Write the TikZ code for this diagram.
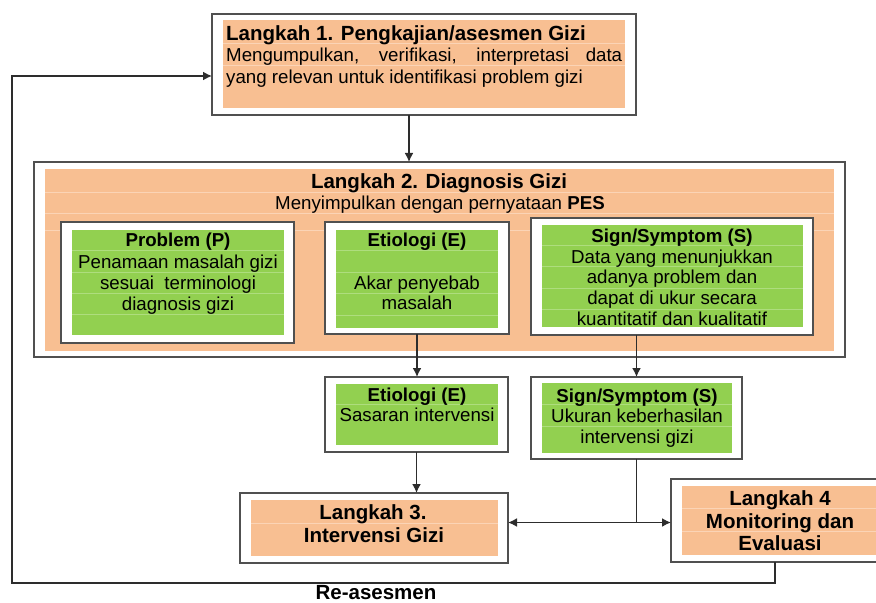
\documentclass[tikz,border=0pt]{standalone}
\usepackage{fontspec}
\setmainfont{Liberation Sans}
\usetikzlibrary{arrows.meta}
\definecolor{orfill}{RGB}{248,191,146}
\definecolor{orline}{RGB}{251,212,182}
\definecolor{grfill}{RGB}{146,208,80}
\definecolor{grline}{RGB}{174,221,126}
\definecolor{framec}{RGB}{80,80,80}
\definecolor{linec}{RGB}{45,45,45}
\begin{document}
\begin{tikzpicture}[x=1bp,y=-1bp,
  frame/.style={draw=framec,line width=1.6bp,fill=white,inner sep=0,outer sep=0},
  orbox/.style={fill=orfill,inner sep=0,outer sep=0},
  grbox/.style={fill=grfill,inner sep=0,outer sep=0},
  orrow/.style={draw=orline,line width=1bp},
  grrow/.style={draw=grline,line width=1bp},
  big/.style={font=\fontsize{20.5bp}{24bp}\selectfont\bfseries, inner sep=0, text height=14.8bp, text depth=0bp},
  hd/.style={font=\fontsize{18.7bp}{22bp}\selectfont\bfseries, inner sep=0, text height=13.5bp, text depth=0bp},
  tx/.style={font=\fontsize{18.7bp}{22bp}\selectfont, inner sep=0, text height=13.5bp, text depth=0bp},
  conn/.style={draw=linec,line width=1.6bp},
  arr/.style={conn,-{Latex[length=9bp,width=9bp]}},
]
\useasboundingbox (0,0) rectangle (876,603);

% ---------- Langkah 1 ----------
\node[frame, minimum width=424bp, minimum height=101bp] (b1) at (424,64.5) {};
\node[orbox, minimum width=402bp, minimum height=88bp] (b1i) at (424,64) {};
\draw[orrow] (223,43.3) -- (625,43.3);
\draw[orrow] (223,65.3) -- (625,65.3);
\node[big, anchor=west] (t1a) at (226,33) {Langkah 1. Pengkajian/asesmen Gizi};
\node[tx, anchor=west] (t1b) at (226,55) {\makebox[396bp][s]{Mengumpulkan, verifikasi, interpretasi data}};
\node[tx, anchor=west] (t1c) at (226,77) {yang relevan untuk identifikasi problem gizi};

% ---------- Langkah 2 ----------
\node[frame, minimum width=811bp, minimum height=195bp] (b2) at (439.5,259.5) {};
\node[orbox, minimum width=789bp, minimum height=182bp] (b2i) at (439.5,260) {};
\draw[orrow] (45,192.3) -- (834,192.3);
\draw[orrow] (45,213.3) -- (834,213.3);
\draw[orrow] (45,231) -- (834,231);
\node[big] (t2a) at (439,181) {Langkah 2. Diagnosis Gizi};
\node[tx] (t2b) at (440,203) {Menyimpulkan dengan pernyataan \textbf{PES}};

% Problem
\node[frame, minimum width=233bp, minimum height=121bp] (p1) at (177.5,282.5) {};
\node[grbox, minimum width=212bp, minimum height=105bp] (p1i) at (178,282.5) {};
\foreach \yy in {250,272.3,293.3,314.3} \draw[grrow] (72,\yy) -- (284,\yy);
\node[hd] (tpa) at (178,240) {Problem (P)};
\node[tx] (tpb) at (178,262) {Penamaan masalah gizi};
\node[tx] (tpc) at (178,283) {sesuai\ \ terminologi};
\node[tx] (tpd) at (178,304) {diagnosis gizi};

% Etiologi
\node[frame, minimum width=184bp, minimum height=112bp] (e1) at (417,278) {};
\node[grbox, minimum width=162bp, minimum height=98bp] (e1i) at (417,279) {};
\foreach \yy in {250.7,272,293,315} \draw[grrow] (336,\yy) -- (498,\yy);
\node[hd] (tea) at (417,240) {Etiologi (E)};
\node[tx] (teb) at (417,283) {Akar penyebab};
\node[tx] (tec) at (417,303) {masalah};

% Sign/Symptom
\node[frame, minimum width=282bp, minimum height=117bp] (s1) at (672,276.5) {};
\node[grbox, minimum width=261bp, minimum height=102bp] (s1i) at (672.5,276) {};
\foreach \yy in {245.7,266.7,288,309.3} \draw[grrow] (542,\yy) -- (803,\yy);
\node[hd] (tsa) at (672,236) {Sign/Symptom (S)};
\node[tx] (tsb) at (672,257) {Data yang menunjukkan};
\node[tx] (tsc) at (672,277) {adanya problem dan};
\node[tx] (tsd) at (672,298) {dapat di ukur secara};
\node[tx] (tse) at (672,319) {kuantitatif dan kualitatif};

% ---------- Etiologi 2 ----------
\node[frame, minimum width=183bp, minimum height=75bp] (e2) at (416.5,414.5) {};
\node[grbox, minimum width=162bp, minimum height=61bp] (e2i) at (417,414.5) {};
\draw[grrow] (336,404.3) -- (498,404.3);
\node[hd] (tfa) at (417,395) {Etiologi (E)};
\node[tx] (tfb) at (417,415) {Sasaran intervensi};

% ---------- Sign/Symptom 2 ----------
\node[frame, minimum width=211bp, minimum height=82bp] (s2) at (636.5,418) {};
\node[grbox, minimum width=190bp, minimum height=70bp] (s2i) at (637,418) {};
\draw[grrow] (542,404) -- (732,404);
\draw[grrow] (542,426) -- (732,426);
\node[hd] (tga) at (637,396) {Sign/Symptom (S)};
\node[tx] (tgb) at (637,416) {Ukuran keberhasilan};
\node[tx] (tgc) at (637,437) {intervensi gizi};

% ---------- Langkah 3 ----------
\node[frame, minimum width=268bp, minimum height=70bp] (l3) at (374,528) {};
\node[orbox, minimum width=247bp, minimum height=56bp] (l3i) at (374.5,528) {};
\draw[orrow] (251,523.3) -- (498,523.3);
\node[big] (t3a) at (373,512) {Langkah 3.};
\node[big] (t3b) at (374,535) {Intervensi Gizi};

% ---------- Langkah 4 ----------
\node[frame, minimum width=218bp, minimum height=83bp] (l4) at (780,520.5) {};
\node[orbox, minimum width=196bp, minimum height=69bp] (l4i) at (780,520.5) {};
\draw[orrow] (682,508.3) -- (878,508.3);
\draw[orrow] (682,531) -- (878,531);
\node[big] (t4a) at (780,498) {Langkah 4};
\node[big] (t4b) at (780,521) {Monitoring dan};
\node[big] (t4c) at (780,543) {Evaluasi};

% ---------- Connectors ----------
\coordinate (ax1) at (409,0);
\draw[arr] (ax1 |- b1.south) -- (ax1 |- b2.north);
\draw[arr] (e1.south) -- (e1.south |- e2.north);
\draw[arr] (s2.north |- s1.south) -- (s2.north);
\draw[arr] (e2.south) -- (e2.south |- l3.north);
\coordinate (j) at (636.5,522.5);
\draw[conn] (s2.south) -- (s2.south |- j);
\draw[arr] (s2.south |- j) -- (l3.east |- j);
\draw[arr] (s2.south |- j) -- (l4.west |- j);
\coordinate (fb) at (775,583);
\coordinate (ry) at (12,76);
\draw[arr] (fb |- l4.south) -- (fb) -- (ry |- fb) -- (ry) -- (b1.west |- ry);
\node[big] (lab) at (376,592.5) {Re-asesmen};
\end{tikzpicture}
\end{document}
